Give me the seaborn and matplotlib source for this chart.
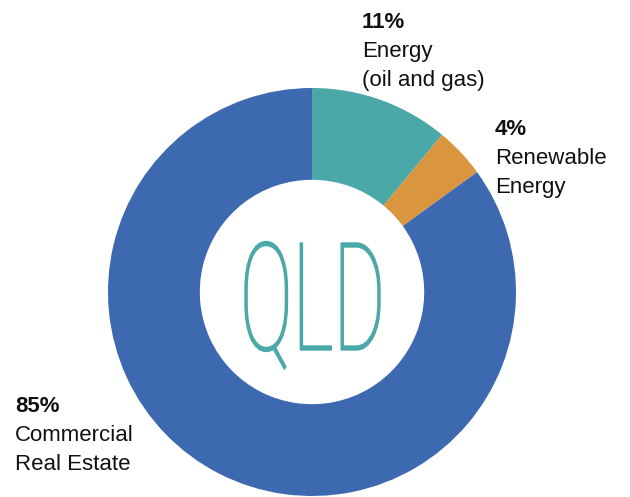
import matplotlib
matplotlib.use("Agg")
import matplotlib.pyplot as plt
import seaborn as sns
from matplotlib.textpath import TextPath
from matplotlib.patches import PathPatch
from matplotlib.font_manager import FontProperties
from matplotlib.transforms import Affine2D

sns.set_theme(style="white")
plt.rcParams['font.family'] = ['Liberation Sans', 'DejaVu Sans']

# Data
categories = ["Energy\n(oil and gas)", "Renewable\nEnergy", "Commercial\nReal Estate"]
values = [11, 4, 85]
pct_labels = ["11%", "4%", "85%"]
colors = ["#4AA9A8", "#DA963F", "#3D69B0"]
center_label = "QLD"

W, H = 630, 497
fig = plt.figure(figsize=(W / 100, H / 100), dpi=100)
fig.patch.set_facecolor("white")

cx, cy, R = 312, 292, 204
ax = fig.add_axes([(cx - R) / W, (H - cy - R) / H, 2 * R / W, 2 * R / H])
ax.pie(values, colors=colors, startangle=90, counterclock=False,
       radius=1.0, wedgeprops=dict(width=0.45, linewidth=0))
ax.set_xlim(-1, 1)
ax.set_ylim(-1, 1)
ax.set_aspect("equal")
ax.axis("off")

# Labels (pixel positions of baselines)
def ftext(x, y, s, **kw):
    fig.text(x / W, 1 - y / H, s, va="baseline", ha="left", fontsize=16,
             color="#111111", **kw)

label_pos = [(362, 28), (495, 135), (15, 412)]
for (x, y), pct, cat in zip(label_pos, pct_labels, categories):
    ftext(x, y, pct, fontweight="bold")
    for i, line in enumerate(cat.split("\n")):
        ftext(x, y + 29 * (i + 1), line, fontweight="normal")

# Center label: thin condensed letters
fp = FontProperties(family=["Roboto", "DejaVu Sans"], weight=100)
tp = TextPath((0, 0), center_label, size=100, prop=fp)
ext = tp.get_extents()
capL = TextPath((0, 0), "L", size=100, prop=fp).get_extents()
cap_h = capL.y1 - capL.y0
# target box in pixels: x 245..380, cap from 243..350 (baseline 350)
tx0, tx1 = 245, 380
base_y, top_y = 350, 243
sx = (tx1 - tx0) / ext.width
sy = (base_y - top_y) / cap_h
trans = Affine2D().translate(-ext.x0, 0).scale(sx, sy).translate(tx0, H - base_y)
path = trans.transform_path(tp)
patch = PathPatch(path, facecolor="#4AA9A8", edgecolor="#4AA9A8", lw=1.0,
                  transform=None)
fig.artists.append(patch)
patch.set_figure(fig)

fig.savefig("out.png", dpi=100, facecolor="white")
